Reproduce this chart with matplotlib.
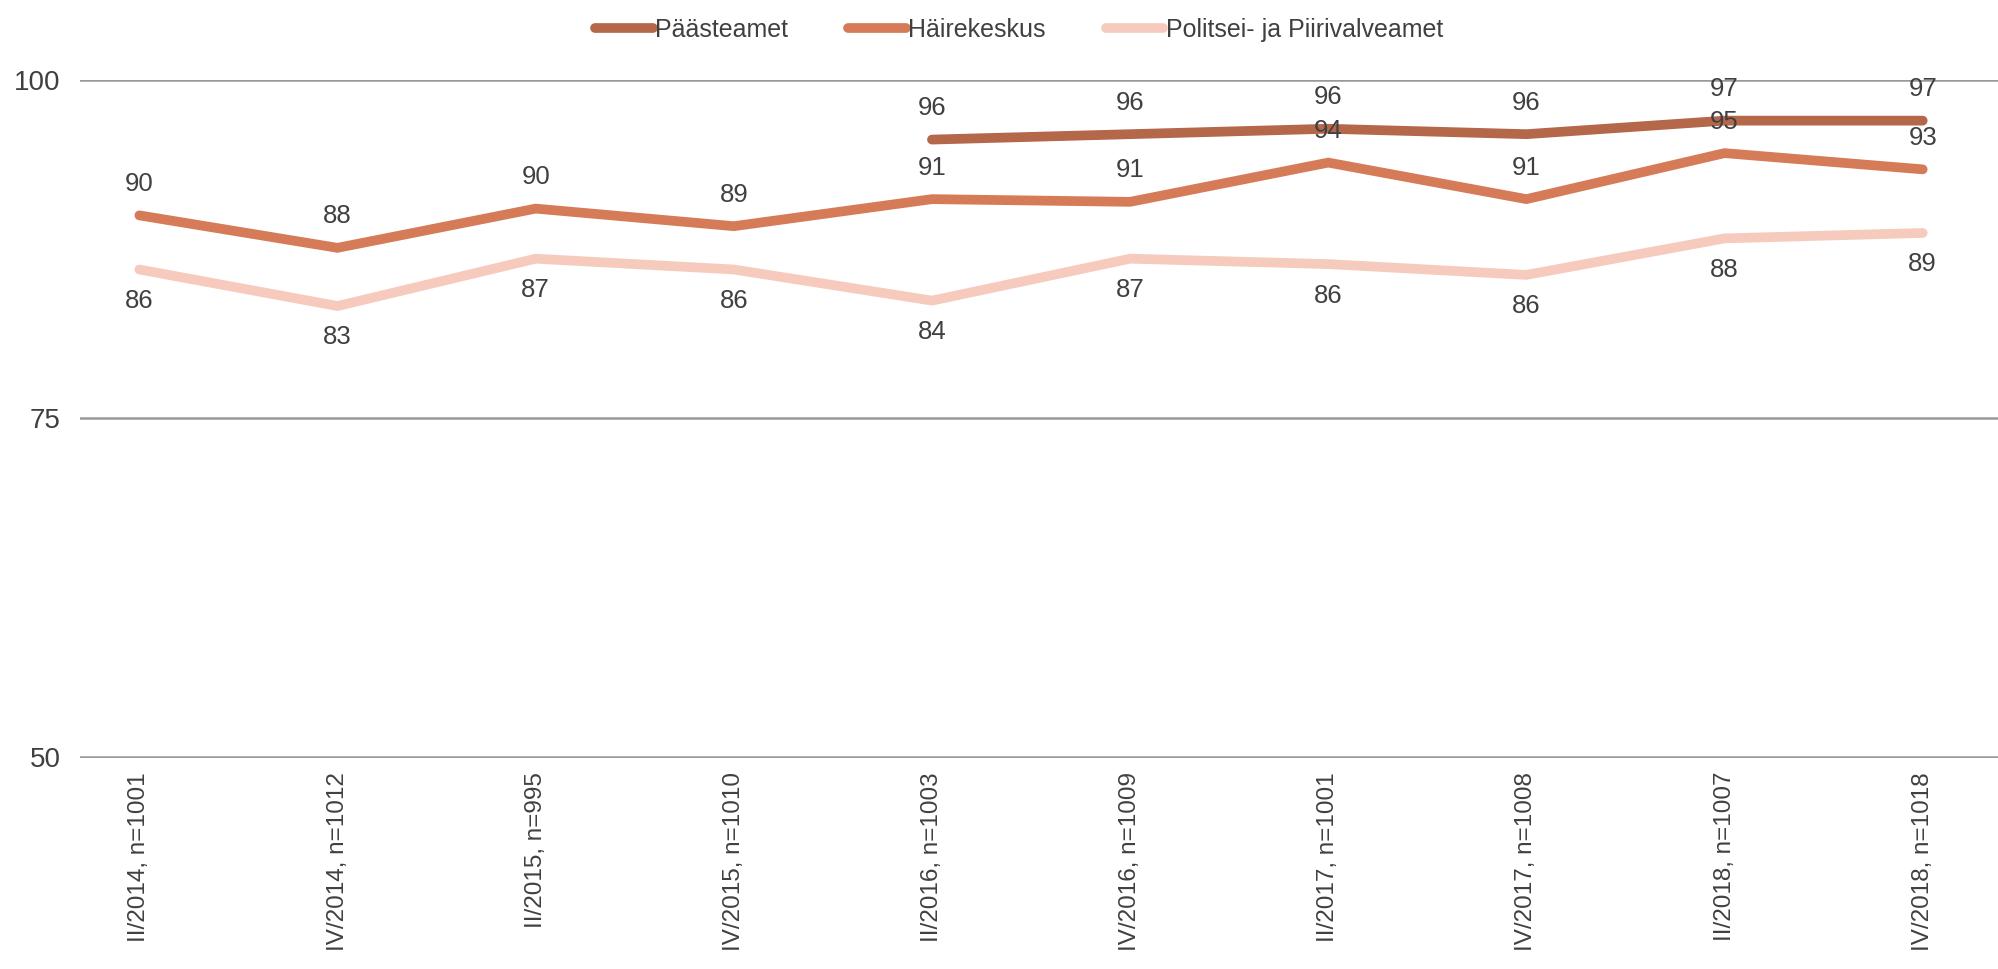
import numpy as np
import matplotlib.pyplot as plt
from matplotlib.lines import Line2D

plt.rcParams['font.family'] = ['Liberation Sans', 'DejaVu Sans']

periods = ["II/2014, n=1001", "IV/2014, n=1012", "II/2015, n=995", "IV/2015, n=1010",
           "II/2016, n=1003", "IV/2016, n=1009", "II/2017, n=1001", "IV/2017, n=1008",
           "II/2018, n=1007", "IV/2018, n=1018"]
paasteamet = [np.nan, np.nan, np.nan, np.nan, 95.6, 96.0, 96.4, 96.0, 97.0, 97.0]
hairekeskus = [90.0, 87.6, 90.5, 89.2, 91.2, 91.0, 93.9, 91.2, 94.6, 93.4]
politsei = [86.0, 83.3, 86.8, 86.0, 83.7, 86.8, 86.4, 85.6, 88.3, 88.7]

series = [
    ("Päästeamet", paasteamet, "#B5674A", 14),
    ("Häirekeskus", hairekeskus, "#D67B58", 14),
    ("Politsei- ja Piirivalveamet", politsei, "#F7CABE", -14),
]
text_col = "#404040"

fig = plt.figure(figsize=(19.98, 9.69), dpi=100)
ax = fig.add_axes([0.040, 0.2177, 0.960, 0.6997])
x = np.arange(len(periods))

handles = []
for name, vals, col, off in series:
    vals = np.array(vals, dtype=float)
    ax.plot(x, vals, color=col, lw=7, solid_capstyle="round", solid_joinstyle="miter")
    for xi, v in zip(x, vals):
        if np.isnan(v):
            continue
        ax.annotate(f"{v:.0f}", (xi, v), xytext=(0, off), textcoords="offset points",
                    ha="center", va="bottom" if off > 0 else "top",
                    fontsize=18.5, color=text_col)
    handles.append(Line2D([0], [0], color=col, lw=7, solid_capstyle="round", label=name))

ax.set_xlim(-0.3, 9.38)
ax.set_ylim(49.9, 100)
ax.set_yticks([50, 75, 100])
ax.yaxis.grid(True, color="#999999", lw=1.8)
ax.set_axisbelow(True)
for s in ax.spines.values():
    s.set_visible(False)
ax.set_xticks(x)
ax.set_xticklabels(periods, rotation=90, fontsize=17.5, color=text_col)
ax.tick_params(axis="both", length=0, labelcolor=text_col)
ax.tick_params(axis="y", pad=14, labelsize=20)
ax.tick_params(axis="x", pad=10)

fig.legend(handles=handles, loc="upper center", bbox_to_anchor=(0.51, 1.005), ncol=3,
           frameon=False, fontsize=18, handlelength=2.3, handletextpad=0.1,
           columnspacing=2.4, labelcolor=text_col)

fig.savefig("out.png", dpi=100)
